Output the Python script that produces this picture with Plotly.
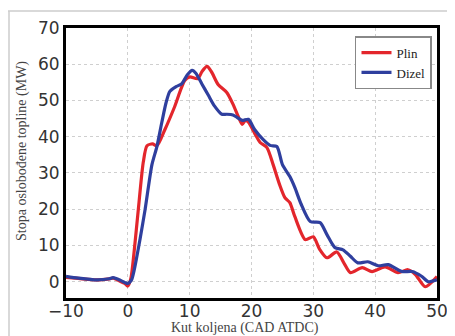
import plotly.graph_objects as go

plin_x = [-10, -8, -5, -3, -2.3, -1.5, -0.5, 0, 0.5, 1, 1.7, 2.5, 3.1, 4, 4.7, 6, 7.5, 9.2, 10, 11.3, 12, 12.8, 13.5, 14.6, 16, 17, 18, 18.5, 19, 19.5, 20.5, 21.4, 22.5, 23.5, 24.5, 25.4, 26.2, 27, 28.7, 30, 31, 32.2, 33.8, 35, 36, 37.9, 39.5, 41.6, 43.7, 45.3, 46.5, 48.1, 50]
plin_y = [1.2, 0.9, 0.5, 0.8, 1.0, 0.3, -0.5, -1.2, 1, 8, 20, 33, 37.5, 38, 37.5, 42, 48, 55.5, 56.5, 56, 58, 59.4, 58, 54.4, 52.2, 49, 45, 43.4, 44.5, 44, 41, 38.4, 37, 32.3, 27, 23.2, 21.8, 18, 11.6, 12.4, 9, 6.6, 8.2, 5, 2.5, 3.9, 2.8, 4.1, 2.5, 3.3, 2, -1.4, 1.4]

dizel_x = [-10, -8, -5, -3, -2.4, -1.5, -0.5, 0, 0.6, 1, 2, 2.8, 3.9, 4.7, 5.5, 6.2, 6.8, 7.8, 8.7, 9.6, 10.4, 11, 12, 13, 14, 15.2, 16, 17, 17.7, 18.5, 19.5, 20.5, 21.9, 23, 24.1, 25, 26.2, 27, 28, 29.5, 31.1, 32.2, 33.5, 34.8, 36, 37.2, 38.8, 40.5, 42.1, 44.3, 46, 47.5, 48.6, 50]
dizel_y = [1.5, 1.0, 0.5, 0.8, 1.1, 0.6, -0.2, -0.5, 0.5, 3, 12, 20, 32.3, 37.3, 44, 49.5, 52.5, 53.8, 54.6, 57, 58.3, 57.5, 54.5, 51.5, 48.5, 46.2, 46.2, 46, 45.3, 44.5, 44.8, 42, 39.2, 37.6, 37.3, 32.3, 29, 26, 21.5, 16.6, 16.3, 13, 9.4, 8.8, 7, 5.2, 5.5, 4.4, 4.7, 2.8, 2.8, 1.5, 0, 0.5]

x_ticks = [-10, 0, 10, 20, 30, 40, 50]
y_ticks = [0, 10, 20, 30, 40, 50, 60, 70]

x_title = "Kut koljena (CAD ATDC)"
y_title = "Stopa oslobođene topline (MW)"

fig = go.Figure()
fig.add_trace(go.Scatter(x=plin_x, y=plin_y, mode="lines", name="Plin",
                         line=dict(color="#e3262c", width=3.2, shape="spline", smoothing=0.7)))
fig.add_trace(go.Scatter(x=dizel_x, y=dizel_y, mode="lines", name="Dizel",
                         line=dict(color="#2f3f9e", width=3.2, shape="spline", smoothing=0.7)))

axis_common = dict(showline=True, mirror=True, linecolor="black", linewidth=3,
                   showgrid=True, gridcolor="#cfcfcf", griddash="dot", gridwidth=1,
                   zeroline=False, ticks="", automargin=False,
                   tickfont=dict(family="DejaVu Sans", size=17, color="#333"))

fig.update_xaxes(range=[-10, 50], tickvals=x_ticks, ticklabelstandoff=-4, **axis_common)
fig.update_yaxes(range=[-4.5, 70], tickvals=y_ticks, **axis_common)

# page body adds an 8px offset; figure coordinates are shifted accordingly
W, H = 455, 336
L, R, T, B = 58, 26, 20, 46
pw, ph = W - L - R, H - T - B

fig.update_layout(
    width=W, height=H,
    margin=dict(l=L, r=R, t=T, b=B),
    paper_bgcolor="white", plot_bgcolor="white",
    showlegend=True,
    legend=dict(x=0.9865, y=0.97, xanchor="right", yanchor="top",
                bgcolor="white", bordercolor="#888", borderwidth=1.5,
                font=dict(family="Liberation Serif", size=13, color="#222"),
                tracegroupgap=2),
    annotations=[
        dict(text=x_title, xref="paper", yref="paper", x=(237 - L) / pw, y=(ph + T - 320) / ph,
             xanchor="center", yanchor="middle", showarrow=False,
             font=dict(family="Liberation Serif", size=14, color="#444")),
        dict(text=y_title, xref="paper", yref="paper", x=(14 - L) / pw, y=(ph + T - 143) / ph,
             xanchor="center", yanchor="middle", showarrow=False, textangle=-90,
             font=dict(family="Liberation Serif", size=14, color="#444")),
    ],
    shapes=[dict(type="line", xref="paper", yref="paper",
                 x0=-L / pw, x1=1 + R / pw, y0=(ph + T - 3) / ph, y1=(ph + T - 3) / ph,
                 line=dict(color="#cccccc", width=1.5), layer="above"),
            dict(type="line", xref="paper", yref="paper",
                 x0=-(L - 1) / pw, x1=-(L - 1) / pw, y0=-B / ph, y1=(ph + T - 3) / ph,
                 line=dict(color="#cccccc", width=1.5), layer="above")],
)

fig.write_html("out.html")
